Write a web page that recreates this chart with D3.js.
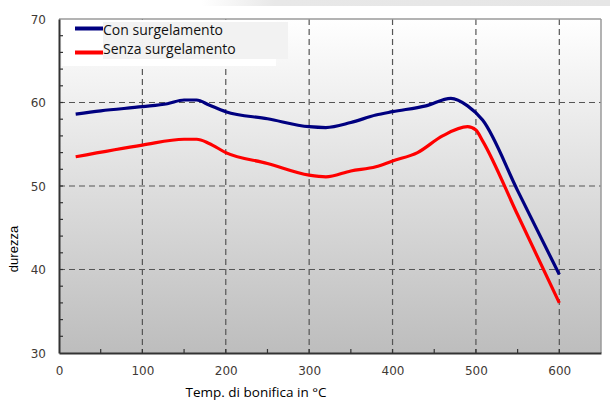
<!DOCTYPE html>
<html>
<head>
<meta charset="utf-8">
<script src="https://cdn.jsdelivr.net/npm/d3@7"></script>
<style>
  body { margin: 0; background: #fff; }
  svg { display: block; }
</style>
</head>
<body>
<div id="chart"></div>
<script>
// data
var conTemp = [20, 50, 100, 130, 150, 165, 180, 200, 250, 300, 320, 350, 380, 400, 440, 470, 490, 508, 550, 600];
var conVal  = [58.6, 59.0, 59.5, 59.85, 60.3, 60.3, 59.7, 58.9, 58.05, 57.1, 57.0, 57.6, 58.5, 58.9, 59.6, 60.5, 59.6, 57.9, 49.45, 39.4];

var senzaTemp = [20, 100, 150, 165, 180, 200, 250, 300, 320, 350, 380, 400, 430, 460, 490, 500, 508, 550, 600];
var senzaVal  = [53.5, 54.9, 55.6, 55.6, 55.1, 54.0, 52.7, 51.3, 51.1, 51.8, 52.3, 53.0, 54.0, 56.0, 57.1, 56.7, 55.4, 46.55, 36.0];

var seriesNames = ["Con surgelamento", "Senza surgelamento"];
var xTicks = [0, 100, 200, 300, 400, 500, 600];
var yTicks = [30, 40, 50, 60, 70];

var svgWidth = 610;
var svgHeight = 403;
var margin = { top: 19, right: 9, bottom: 50, left: 59 };
var width = svgWidth - margin.left - margin.right;
var height = svgHeight - margin.top - margin.bottom;

var svg = d3.select("#chart").append("svg")
  .attr("width", svgWidth)
  .attr("height", svgHeight);

// faint slide band at the very top
var defs = svg.append("defs");
var band = defs.append("linearGradient").attr("id", "band");
band.append("stop").attr("offset", "0.33").attr("stop-color", "#ffffff");
band.append("stop").attr("offset", "0.45").attr("stop-color", "#e8e8e8");
band.append("stop").attr("offset", "1").attr("stop-color", "#e6e6e6");
svg.append("rect").attr("x", 0).attr("y", 0).attr("width", svgWidth).attr("height", 6)
  .attr("fill", "url(#band)");

var bg = defs.append("linearGradient").attr("id", "plotbg")
  .attr("x1", 0).attr("y1", 0).attr("x2", 0).attr("y2", 1);
bg.append("stop").attr("offset", "0").attr("stop-color", "#ffffff");
bg.append("stop").attr("offset", "1").attr("stop-color", "#bdbdbd");

var g = svg.append("g").attr("transform", `translate(${margin.left}, ${margin.top})`);

var x = d3.scaleLinear().domain([0, 650]).range([0, width]);
var y = d3.scaleLinear().domain([30, 70]).range([height, 0]);

g.append("rect").attr("width", width).attr("height", height).attr("fill", "url(#plotbg)");

// dashed grid
g.selectAll(".vgrid").data(xTicks.filter(d => d > 0)).enter().append("line")
  .attr("x1", d => x(d)).attr("x2", d => x(d))
  .attr("y1", 0).attr("y2", height)
  .attr("stroke", "#555").attr("stroke-width", 1.2).attr("stroke-dasharray", "6,4");
g.selectAll(".hgrid").data(yTicks.filter(d => d > 30 && d < 70)).enter().append("line")
  .attr("x1", 0).attr("x2", width)
  .attr("y1", d => y(d)).attr("y2", d => y(d))
  .attr("stroke", "#555").attr("stroke-width", 1.2).attr("stroke-dasharray", "6,4");

// legend background covers the grid
g.append("rect").attr("x", 3).attr("y", 1).attr("width", 214).attr("height", 46).attr("fill", "#ffffff");
g.append("rect").attr("x", 44).attr("y", 3).attr("width", 185).attr("height", 37).attr("fill", "#f2f2f2");

// plot border: top/right light, left/bottom dark
g.append("line").attr("x1", 0).attr("x2", width).attr("y1", 0).attr("y2", 0)
  .attr("stroke", "#9a9a9a").attr("stroke-width", 1.5);
g.append("line").attr("x1", width).attr("x2", width).attr("y1", 0).attr("y2", height)
  .attr("stroke", "#9a9a9a").attr("stroke-width", 1.5);

// axes
var bottomAxis = d3.axisBottom(x).tickValues(xTicks).tickSize(0).tickPadding(13);
var leftAxis = d3.axisLeft(y).tickValues(yTicks).tickSize(0).tickPadding(13);

var xa = g.append("g").attr("transform", `translate(0, ${height})`).call(bottomAxis);
var ya = g.append("g").call(leftAxis);
[xa, ya].forEach(function (a) {
  a.select(".domain").attr("stroke", "#333").attr("stroke-width", 2);
  a.selectAll("text").attr("fill", "#3f3a36")
    .style("font-family", "DejaVu Sans").style("font-size", "12px");
});
ya.selectAll("text").attr("dy", "0.35em");

// minor ticks pointing inward
g.selectAll(".xminor").data(d3.range(50, 650, 50)).enter().append("line")
  .attr("x1", d => x(d)).attr("x2", d => x(d))
  .attr("y1", height).attr("y2", height - 4)
  .attr("stroke", "#333").attr("stroke-width", 1.2);
g.selectAll(".yminor").data(d3.range(32, 70, 2)).enter().append("line")
  .attr("x1", 0).attr("x2", 4)
  .attr("y1", d => y(d)).attr("y2", d => y(d))
  .attr("stroke", "#333").attr("stroke-width", 1.2);

// lines
var line = d3.line()
  .x(d => x(d[0]))
  .y(d => y(d[1]))
  .curve(d3.curveMonotoneX);

var conData = conTemp.map((t, i) => [t, conVal[i]]);
var senzaData = senzaTemp.map((t, i) => [t, senzaVal[i]]);

g.append("path").datum(senzaData).attr("d", line)
  .attr("fill", "none").attr("stroke", "#ff0000").attr("stroke-width", 3.2);
g.append("path").datum(conData).attr("d", line)
  .attr("fill", "none").attr("stroke", "#000080").attr("stroke-width", 3.2);

// legend
var colors = ["#000080", "#ff0000"];
var legend = g.selectAll(".legend").data(seriesNames).enter().append("g")
  .attr("transform", (d, i) => `translate(0, ${i * 19})`);
legend.append("line")
  .attr("x1", 16).attr("x2", 44)
  .attr("y1", (d, i) => 9.5 + i * 5).attr("y2", (d, i) => 9.5 + i * 5)
  .attr("stroke", (d, i) => colors[i]).attr("stroke-width", 4);
legend.append("text")
  .attr("x", 44).attr("y", 16)
  .style("font-family", "Open Sans").style("font-size", "14px").attr("fill", "#111")
  .text(d => d);

// axis titles
svg.append("text")
  .attr("transform", "translate(18, 249) rotate(-90)")
  .attr("text-anchor", "middle")
  .style("font-family", "Liberation Sans").style("font-size", "13px")
  .text("durezza");
svg.append("text")
  .attr("x", 256).attr("y", 397)
  .attr("text-anchor", "middle")
  .style("font-family", "Open Sans").style("font-size", "13.5px")
  .text("Temp. di bonifica in °C");
</script>
</body>
</html>
